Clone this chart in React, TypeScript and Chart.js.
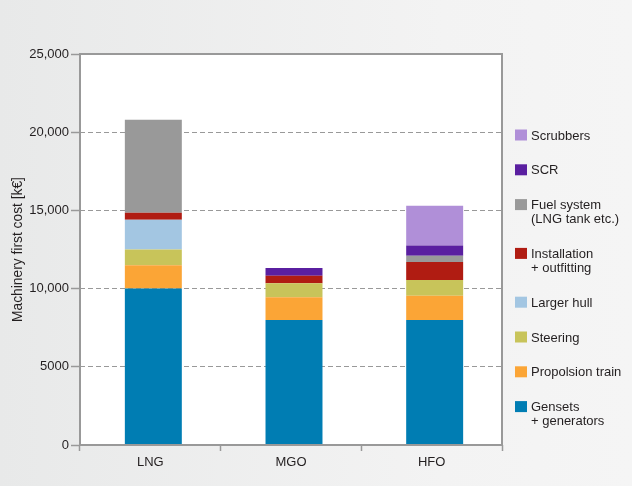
import React, { useEffect, useRef } from "react";
import { Chart, registerables } from "chart.js";

Chart.register(...registerables);

// ---- data ----
const categories = ["LNG", "MGO", "HFO"];
const gensets = [10000, 8000, 8000];
const propulsion = [1500, 1450, 1550];
const steering = [1000, 900, 1000];
const largerHull = [1900, 0, 0];
const installation = [450, 470, 1150];
const fuelSystem = [5950, 0, 400];
const scr = [0, 500, 650];
const scrubbers = [0, 0, 2550];

const seriesLabels = [
  ["Gensets", "+ generators"],
  ["Propolsion train"],
  ["Steering"],
  ["Larger hull"],
  ["Installation", "+ outfitting"],
  ["Fuel system", "(LNG tank etc.)"],
  ["SCR"],
  ["Scrubbers"],
];
const seriesValues = [gensets, propulsion, steering, largerHull, installation, fuelSystem, scr, scrubbers];
const seriesColors = ["#007db3", "#fba536", "#c8c45a", "#a3c6e2", "#b01c12", "#999999", "#5a1fa0", "#b08fd8"];

const yMin = 0;
const yMax = 25000;
const yStep = 5000;

const FONT = "'Liberation Sans', Arial, sans-serif";
const TEXT = "#231f20";
const GRID = "#999999";

function fmt(v: number): string {
  if (v < 10000) return String(v);
  const s = String(v);
  return s.slice(0, s.length - 3) + "," + s.slice(s.length - 3);
}

const backgroundPlugin = {
  id: "bgPlugin",
  beforeDraw(chart: any) {
    const { ctx, width, height, chartArea } = chart;
    ctx.save();
    const g = ctx.createLinearGradient(0, 0, width, 0);
    g.addColorStop(0, "#e8e9e9");
    g.addColorStop(0.7, "#f3f3f3");
    g.addColorStop(1, "#f5f5f5");
    ctx.fillStyle = g;
    ctx.fillRect(0, 0, width, height);
    ctx.fillStyle = "#ffffff";
    ctx.fillRect(chartArea.left, chartArea.top, chartArea.right - chartArea.left, chartArea.bottom - chartArea.top);
    ctx.restore();
  },
  beforeDatasetsDraw(chart: any) {
    // bars in the original sit slightly right of the category centres
    chart.ctx.save();
    chart.ctx.translate(3, 0);
  },
  afterDatasetsDraw(chart: any) {
    const { ctx, chartArea } = chart;
    ctx.restore();
    ctx.save();
    ctx.strokeStyle = GRID;
    ctx.lineWidth = 2;
    ctx.strokeRect(chartArea.left, chartArea.top, chartArea.right - chartArea.left, chartArea.bottom - chartArea.top);
    ctx.restore();
  },
  afterDraw(chart: any) {
    const { ctx, chartArea } = chart;
    const ds = chart.data.datasets;
    ctx.save();
    ctx.font = `13px ${FONT}`;
    ctx.textBaseline = "middle";
    ctx.textAlign = "left";
    const boxX = chartArea.right + 13;
    const textX = boxX + 16;
    let y = 135;
    for (let i = ds.length - 1; i >= 0; i--) {
      const lines: string[] = seriesLabels[i];
      ctx.fillStyle = ds[i].backgroundColor;
      ctx.fillRect(boxX, y - 5.5, 12, 11);
      ctx.fillStyle = TEXT;
      lines.forEach((ln, k) => ctx.fillText(ln, textX, y + 1 + k * 14));
      y += 34.8 + (lines.length - 1) * 14;
    }
    ctx.restore();
  },
};

export default function App() {
  const ref = useRef<HTMLCanvasElement | null>(null);

  useEffect(() => {
    if (!ref.current) return;
    const chart = new Chart(ref.current, {
      type: "bar",
      data: {
        labels: categories,
        datasets: seriesValues.map((vals, i) => ({
          label: seriesLabels[i].join(" "),
          data: vals,
          backgroundColor: seriesColors[i],
          borderWidth: 0,
          barPercentage: 0.405,
          categoryPercentage: 1,
        })),
      },
      options: {
        animation: false,
        responsive: false,
        devicePixelRatio: 1,
        layout: { padding: { left: 0, right: 130, top: 54, bottom: 0 } },
        plugins: {
          legend: { display: false },
          tooltip: { enabled: false },
          title: { display: false },
        },
        scales: {
          x: {
            stacked: true,
            afterFit(scale: any) {
              scale.height = 41;
            },
            grid: {
              offset: true,
              drawOnChartArea: false,
              drawTicks: true,
              tickLength: 6,
              tickColor: GRID,
              tickWidth: 1.5,
            },
            border: { display: false },
            ticks: {
              color: TEXT,
              font: { family: FONT, size: 13 },
              padding: 4,
            },
          },
          y: {
            stacked: true,
            min: yMin,
            max: yMax,
            afterFit(scale: any) {
              scale.width = 80;
            },
            grid: {
              color: (c: any) =>
                c.tick && (c.tick.value === yMin || c.tick.value === yMax) ? "rgba(0,0,0,0)" : GRID,
              lineWidth: 1,
              tickColor: GRID,
              tickLength: 9,
              tickWidth: 1.5,
              tickBorderDash: [],
            },
            border: { display: false, dash: [5, 3] },
            ticks: {
              stepSize: yStep,
              color: TEXT,
              font: { family: FONT, size: 13 },
              padding: 2,
              callback: (v: any) => fmt(Number(v)),
            },
            title: {
              display: true,
              text: "Machinery first cost [k€]",
              color: TEXT,
              font: { family: FONT, size: 13.8 },
              padding: { top: 9.5, bottom: 0 },
            },
          },
        },
      },
      plugins: [backgroundPlugin],
    } as any);
    return () => chart.destroy();
  }, []);

  return (
    <div style={{ position: "absolute", left: 0, top: 0, width: 632, height: 486 }}>
      <canvas ref={ref} width={632} height={486} style={{ display: "block" }} />
    </div>
  );
}
